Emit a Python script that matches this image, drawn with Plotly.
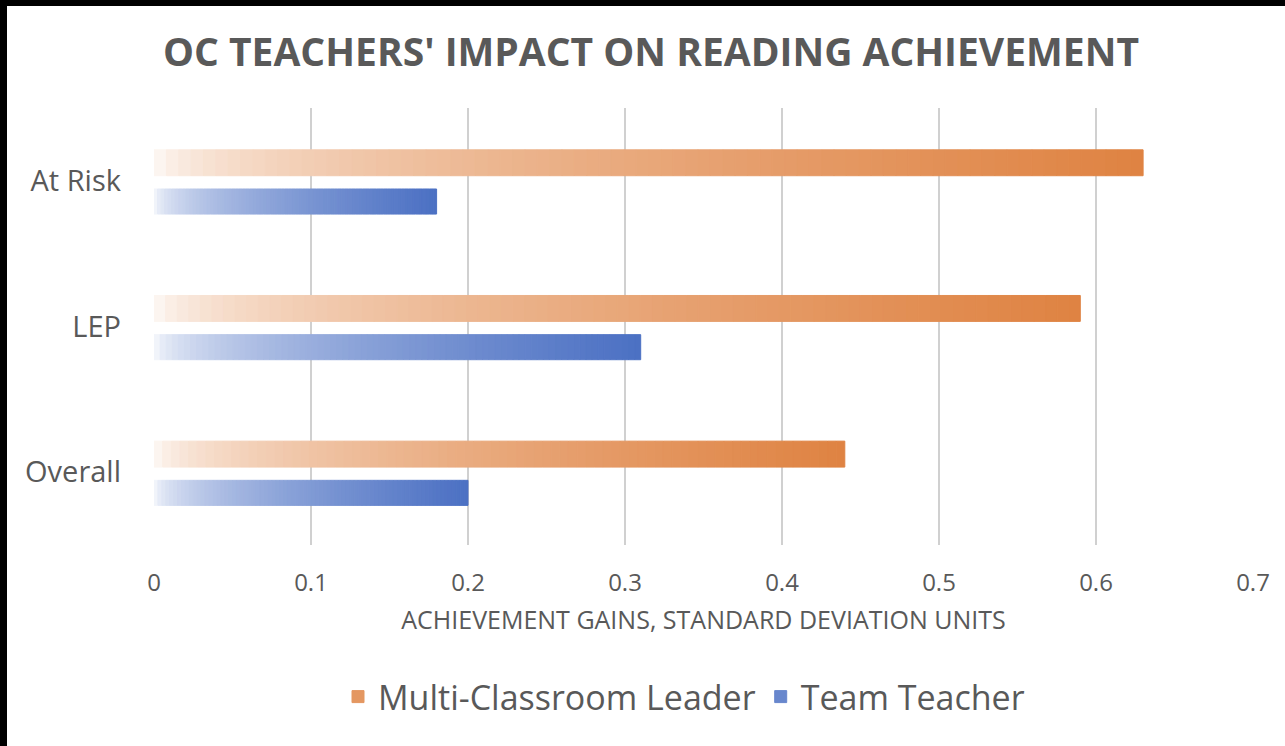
import plotly.graph_objects as go

categories = ["Overall", "LEP", "At Risk"]
mcl_values = [0.44, 0.59, 0.63]
tt_values = [0.20, 0.31, 0.18]
series_names = ["Multi-Classroom Leader", "Team Teacher"]
x_ticks = [0, 0.1, 0.2, 0.3, 0.4, 0.5, 0.6, 0.7]
x_tick_labels = ["0", "0.1", "0.2", "0.3", "0.4", "0.5", "0.6", "0.7"]

TEXT = "#595959"
FONT = "'Open Sans', sans-serif"
N_SEG = 80

series = [
    dict(name=series_names[0], values=mcl_values, base_rgb=(220, 120, 50),
         offset=0.035, width=0.178),
    dict(name=series_names[1], values=tt_values, base_rgb=(60, 100, 190),
         offset=-0.228, width=0.172),
]


def blend(rgb, a):
    return tuple(round(255 - a * (255 - c)) for c in rgb)


fig = go.Figure()
for s in series:
    for i in range(N_SEG):
        t0 = i / N_SEG
        t1 = (i + 1) / N_SEG
        tm = (t0 + t1) / 2
        alpha = 0.92 * tm ** 0.5
        r, g, b = blend(s["base_rgb"], alpha)
        color = f"rgb({r},{g},{b})"
        show = i == int(N_SEG * 0.7)
        fig.add_trace(go.Bar(
            y=categories,
            x=[v * (t1 - t0) for v in s["values"]],
            base=[v * t0 for v in s["values"]],
            orientation="h",
            name=s["name"],
            legendgroup=s["name"],
            showlegend=show,
            marker=dict(color=color, line=dict(width=1, color=color)),
            offset=s["offset"],
            width=s["width"],
            hoverinfo="skip",
        ))

W, H = 1285, 746
L, R, T, B = 154, 32, 108, 201
pw, ph = W - L - R, H - T - B


def px_x(px):
    return (px - L) / pw


def px_y(py):
    return (H - B - py) / ph


fig.update_layout(
    width=W, height=H,
    margin=dict(l=L, r=R, t=T, b=B, pad=0),
    paper_bgcolor="white",
    plot_bgcolor="white",
    barmode="overlay",
    font=dict(family=FONT, color=TEXT),
    title=dict(
        text="<b>OC TEACHERS' IMPACT ON READING ACHIEVEMENT</b>",
        x=651 / W, xanchor="center", xref="container",
        y=1 - 52 / H, yanchor="middle", yref="container",
        font=dict(family=FONT, size=39, color=TEXT),
    ),
    xaxis=dict(
        range=[0, 0.7],
        tickvals=x_ticks,
        ticktext=x_tick_labels,
        showgrid=True,
        gridcolor="#d0d0d0",
        gridwidth=2,
        zeroline=False,
        showline=False,
        ticks="",
        ticklabelstandoff=21,
        tickfont=dict(size=24, color=TEXT),
        title=dict(text="ACHIEVEMENT GAINS, STANDARD DEVIATION UNITS",
                   font=dict(size=25, color=TEXT), standoff=14),
    ),
    yaxis=dict(
        range=[-0.5, 2.5],
        type="category",
        showgrid=False,
        zeroline=False,
        showline=False,
        ticks="",
        ticklabelstandoff=32,
        tickfont=dict(size=29, color=TEXT),
    ),
    legend=dict(
        orientation="h",
        x=px_x(684), xanchor="center",
        y=px_y(697), yanchor="middle",
        font=dict(size=34, color=TEXT),
        itemwidth=30,
        traceorder="normal",
    ),
    shapes=[
        dict(type="rect", xref="paper", yref="paper",
             x0=px_x(-5), x1=px_x(7), y0=px_y(H + 5), y1=px_y(-5),
             fillcolor="black", line=dict(width=0), layer="above"),
        dict(type="rect", xref="paper", yref="paper",
             x0=px_x(-5), x1=px_x(W + 5), y0=px_y(6), y1=px_y(-5),
             fillcolor="black", line=dict(width=0), layer="above"),
    ],
)

fig.write_html(
    "out.html",
    config={"displayModeBar": False},
    post_script="document.body.style.margin='0';document.body.style.overflow='hidden';",
)
